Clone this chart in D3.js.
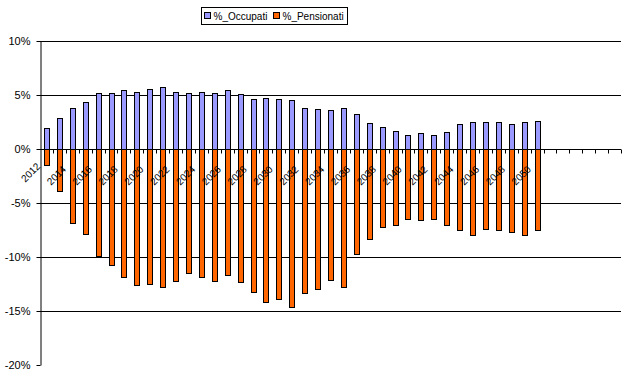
<!DOCTYPE html>
<html>
<head>
<meta charset="utf-8">
<script src="https://cdn.jsdelivr.net/npm/d3@7"></script>
<style>
  html, body { margin: 0; padding: 0; background: #fff; }
  svg { display: block; font-family: Arial, "Liberation Sans", sans-serif; }
</style>
</head>
<body>
<svg id="chart" width="628" height="381"></svg>
<script>
// ---- data ----
const categories = ["2012","2013","2014","2015","2016","2017","2018","2019","2020","2021",
  "2022","2023","2024","2025","2026","2027","2028","2029","2030","2031",
  "2032","2033","2034","2035","2036","2037","2038","2039","2040","2041",
  "2042","2043","2044","2045","2046","2047","2048","2049","2050",
  "2051","2052","2053","2054","2055","2056"];
const dataYears = categories.slice(0, 39);
const occupati = [1.94, 2.87, 3.8, 4.35, 5.19, 5.19, 5.46, 5.28, 5.56, 5.74,
  5.28, 5.19, 5.28, 5.19, 5.46, 5.09, 4.63, 4.72, 4.63, 4.54,
  3.8, 3.7, 3.61, 3.8, 3.24, 2.41, 2.04, 1.67, 1.3, 1.48,
  1.3, 1.57, 2.31, 2.5, 2.5, 2.5, 2.31, 2.5, 2.59];
const pensionati = [-1.48, -3.92, -6.85, -7.87, -9.94, -10.74, -11.85, -12.6, -12.5, -12.78,
  -12.2, -11.45, -11.85, -12.2, -11.67, -12.3, -13.24, -14.17, -13.89, -14.63,
  -13.33, -12.96, -12.13, -12.78, -9.72, -8.33, -7.22, -7.04, -6.48, -6.57,
  -6.48, -7.04, -7.5, -7.96, -7.41, -7.5, -7.69, -7.96, -7.5];
const xTickLabels = ["2012","2014","2016","2018","2020","2022","2024","2026","2028","2030",
  "2032","2034","2036","2038","2040","2042","2044","2046","2048","2050"];
const yTicks = [-20, -15, -10, -5, 0, 5, 10];
const gridTicks = [-15, -10, -5, 0, 5, 10];
const seriesNames = ["%_Occupati", "%_Pensionati"];
const colors = ["#9999FF", "#FF6600"];

// ---- layout ----
const svg = d3.select("#chart");
const mLeft = 40, mRight = 621, mTop = 41, mBottom = 365;

const x = d3.scaleBand().domain(categories).range([mLeft, mRight]).paddingInner(0).paddingOuter(0);
const y = d3.scaleLinear().domain([-20, 10]).range([mBottom, mTop]);
const barW = 5;

// gridlines
svg.append("g").selectAll("line").data(gridTicks).join("line")
  .attr("x1", mLeft).attr("x2", mRight)
  .attr("y1", d => Math.round(y(d)) + 0.5).attr("y2", d => Math.round(y(d)) + 0.5)
  .attr("stroke", "#000").attr("stroke-width", 1);

// bars
const rows = dataYears.map((c, i) => ({c, occ: occupati[i], pen: pensionati[i]}));
const bx = d => Math.round(x(d.c) + x.bandwidth() / 2 - barW / 2) + 0.5;
svg.append("g").selectAll("rect").data(rows).join("rect")
  .attr("x", bx)
  .attr("y", d => Math.round(y(d.occ)) + 0.5)
  .attr("width", barW)
  .attr("height", d => Math.round(y(0)) - Math.round(y(d.occ)))
  .attr("fill", colors[0]).attr("stroke", "#000").attr("stroke-width", 1);
svg.append("g").selectAll("rect").data(rows).join("rect")
  .attr("x", bx)
  .attr("y", d => Math.round(y(0)) + 0.5)
  .attr("width", barW)
  .attr("height", d => Math.round(y(d.pen)) - Math.round(y(0)))
  .attr("fill", colors[1]).attr("stroke", "#000").attr("stroke-width", 1);

// y axis
const yAxis = d3.axisLeft(y).tickValues(yTicks).tickFormat(d => d + "%")
  .tickSize(4).tickSizeOuter(0).tickPadding(6);
const gy = svg.append("g").attr("transform", `translate(${mLeft + 0.5},0)`).call(yAxis);
gy.select(".domain").attr("stroke", "#000");
gy.selectAll(".tick line").attr("stroke", "#000");
gy.selectAll("text").attr("font-size", 11).attr("fill", "#000")
  .attr("font-family", "Arial, 'Liberation Sans', sans-serif");

// x axis line
const y0 = Math.round(y(0)) + 0.5;
svg.append("line").attr("x1", mLeft).attr("x2", mRight).attr("y1", y0).attr("y2", y0)
  .attr("stroke", "#000");
// ticks at category boundaries
const boundaries = categories.map(c => x(c)).concat([x(categories[categories.length - 1]) + x.bandwidth()]);
svg.append("g").selectAll("line").data(boundaries.slice(1)).join("line")
  .attr("x1", d => Math.round(d) + 0.5).attr("x2", d => Math.round(d) + 0.5)
  .attr("y1", y0).attr("y2", y0 + 4)
  .attr("stroke", "#000");

// x labels
svg.append("g").selectAll("text").data(xTickLabels).join("text")
  .attr("transform", (d, i) => `translate(${x(d) + x.bandwidth() / 2 - 5.5},${y0 + (i === 0 ? 17.5 : 20.5)}) rotate(-45)`)
  .attr("text-anchor", "end")
  .attr("font-size", 10)
  .attr("fill", "#000")
  .text(d => d);

// legend
const lg = svg.append("g");
lg.append("rect").attr("x", 201.5).attr("y", 7.5).attr("width", 146).attr("height", 17)
  .attr("fill", "#fff").attr("stroke", "#000");
const lx = [204, 273];
seriesNames.forEach((n, i) => {
  lg.append("rect").attr("x", lx[i] + 0.5).attr("y", 12.5).attr("width", 6).attr("height", 6)
    .attr("fill", colors[i]).attr("stroke", "#000");
  lg.append("text").attr("x", lx[i] + 9.5).attr("y", 20).attr("font-size", 10)
    .attr("fill", "#000").text(n);
});
</script>
</body>
</html>
